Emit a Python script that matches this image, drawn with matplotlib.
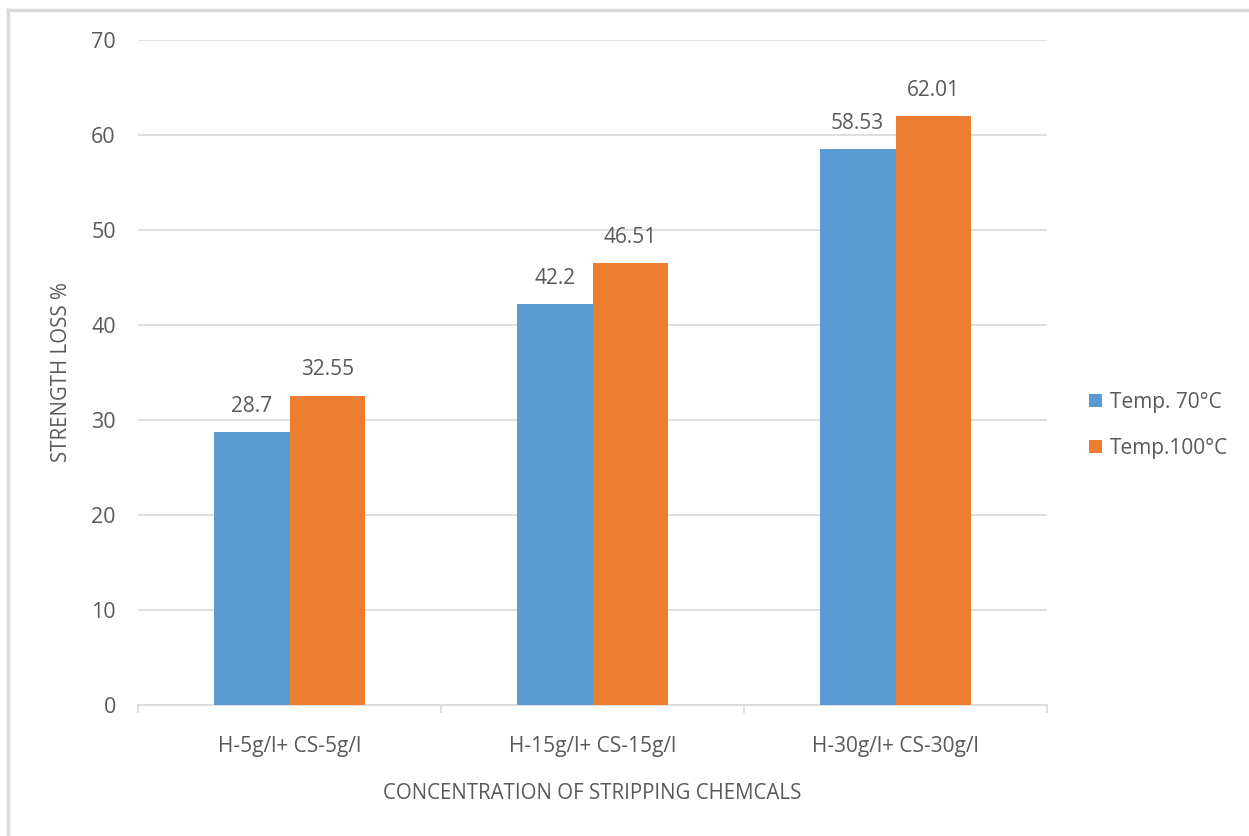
import matplotlib.pyplot as plt
import numpy as np

plt.rcParams['font.family'] = ['Open Sans', 'DejaVu Sans']

categories = ['H-5g/l+ CS-5g/l', 'H-15g/l+ CS-15g/l', 'H-30g/l+ CS-30g/l']
temp_70 = [28.7, 42.2, 58.53]
temp_100 = [32.55, 46.51, 62.01]
series_names = ['Temp. 70°C', 'Temp.100°C']

text_col = '#595959'
grid_col = '#d9d9d9'

fig = plt.figure(figsize=(12.49, 8.36), dpi=100)
ax = fig.add_axes([0.1105, 0.1567, 0.7278, 0.7955])

x = np.arange(len(categories))
w = 0.25
b1 = ax.bar(x - w / 2, temp_70, w, color='#5B9BD5', label=series_names[0], zorder=3)
b2 = ax.bar(x + w / 2, temp_100, w, color='#ED7D31', label=series_names[1], zorder=3)

for bars, vals in ((b1, temp_70), (b2, temp_100)):
    for bar, v in zip(bars, vals):
        ax.annotate(f'{v:g}', (bar.get_x() + bar.get_width() / 2, v),
                    xytext=(0, 11), textcoords='offset points',
                    ha='center', va='bottom', fontsize=15, color=text_col)

ax.set_xlim(-0.5, 2.5)
ax.set_ylim(0, 70)
ax.set_yticks(range(0, 71, 10))
ax.yaxis.grid(True, color=grid_col, linewidth=1.2, zorder=0)
ax.tick_params(axis='y', length=0, pad=16, labelsize=15.5, labelcolor=text_col)

# category labels in the middle, tick marks on the group boundaries
ax.set_xticks(x)
ax.set_xticklabels(categories)
ax.set_xticks([-0.5, 0.5, 1.5, 2.5], minor=True)
ax.tick_params(axis='x', which='major', length=0, pad=22, labelsize=15, labelcolor=text_col)
ax.tick_params(axis='x', which='minor', length=6, color=grid_col, width=1.2)

for s in ('top', 'right', 'left'):
    ax.spines[s].set_visible(False)
ax.spines['bottom'].set_color(grid_col)
ax.spines['bottom'].set_linewidth(1.2)

ax.set_ylabel('STRENGTH LOSS %', fontsize=14.8, color=text_col, labelpad=14)
ax.set_xlabel('CONCENTRATION OF STRIPPING CHEMCALS', fontsize=14.8, color=text_col, labelpad=19)

fig.legend(loc='center left', bbox_to_anchor=(0.857, 0.4916), frameon=False,
           fontsize=15, labelcolor=text_col, handlelength=0.6, handleheight=0.6,
           handletextpad=0.4, labelspacing=1.2)

# outer chart frame
fig.add_artist(plt.Line2D([0.0065, 0.0065], [0, 0.988], color='#d9d9d9', lw=2.5,
                          transform=fig.transFigure))
fig.add_artist(plt.Line2D([0.0065, 1], [0.988, 0.988], color='#d9d9d9', lw=2.5,
                          transform=fig.transFigure))

fig.savefig('out.png', dpi=100)
